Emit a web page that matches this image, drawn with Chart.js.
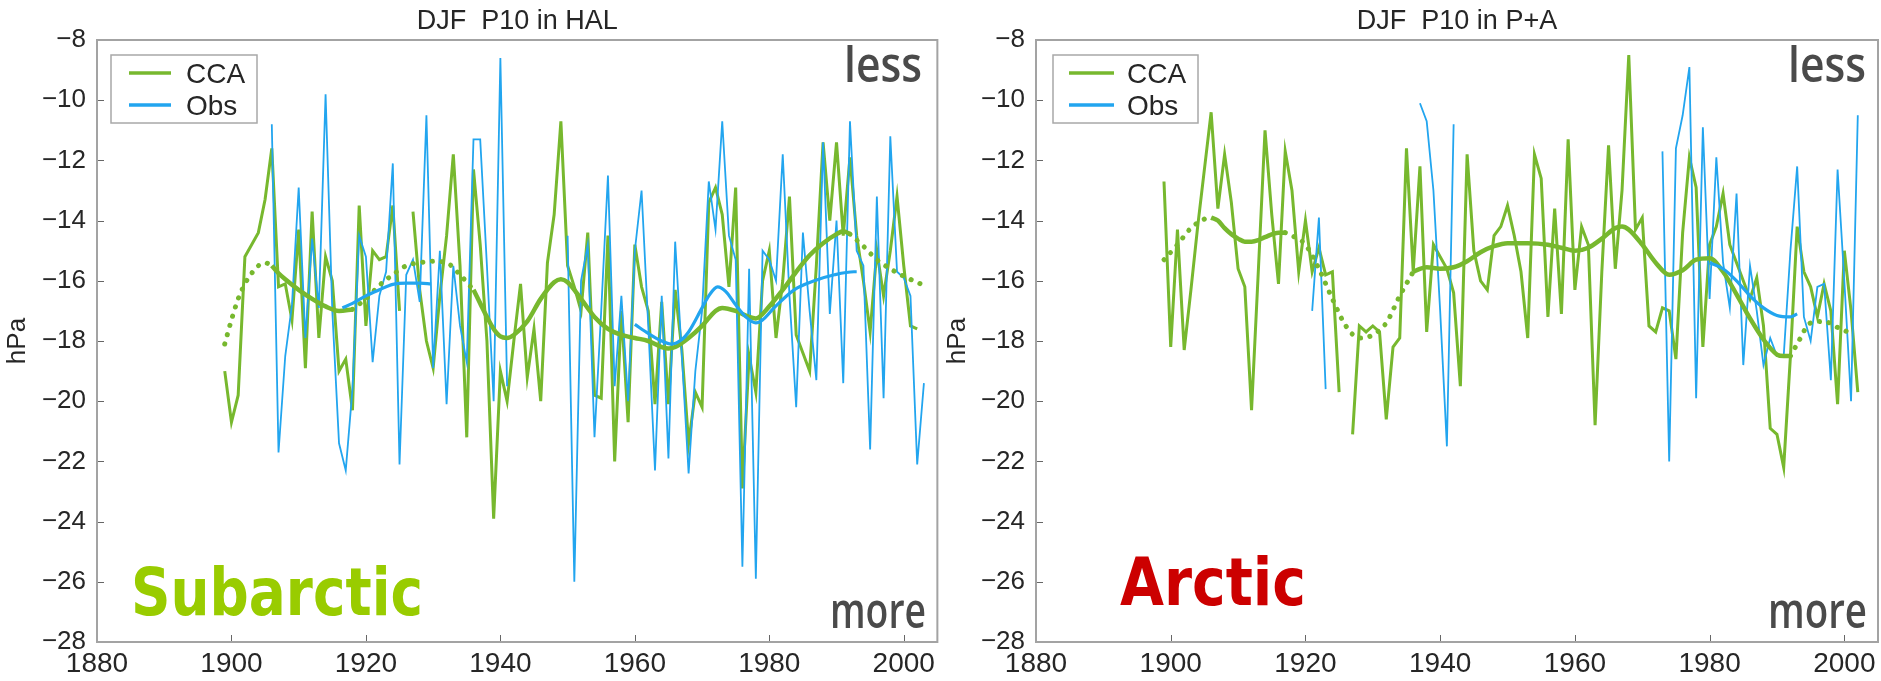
<!DOCTYPE html>
<html><head><meta charset="utf-8">
<script src="https://cdn.jsdelivr.net/npm/chart.js@4.4.1/dist/chart.umd.min.js"></script>
<style>
html,body{margin:0;padding:0;background:#fff;width:1881px;height:681px;overflow:hidden}
#wrapL{position:absolute;left:0;top:0;width:940px;height:681px}
#wrapR{position:absolute;left:940px;top:0;width:941px;height:681px}
</style></head><body>
<div id="wrapL"><canvas id="cL" width="940" height="681"></canvas></div>
<div id="wrapR"><canvas id="cR" width="941" height="681"></canvas></div>
<script>
// ---- categories / ticks ----
const firstYear = 1899, lastYear = 2003;
const years = [];
for (let y = firstYear; y <= lastYear; y++) years.push(y);
const xTicks = [1880, 1900, 1920, 1940, 1960, 1980, 2000];
const yTicks = [-28, -26, -24, -22, -20, -18, -16, -14, -12, -10, -8];

// ---- HAL (left panel), 1899..2003 ----
const ccaHAL = [
-19.0,-20.7,-19.8,-15.2,-14.8,-14.4,-13.3,-11.6,-16.2,-16.1,
-17.3,-14.3,-18.9,-13.7,-17.9,-15.2,-16.0,-19.0,-18.6,-20.3,
-13.5,-17.5,-15.0,-15.3,-15.2,-13.5,-17.0,null,-13.7,-16.3,
-18.0,-18.9,-16.5,-14.5,-11.8,-15.5,-21.2,-12.3,-14.8,-18.0,
-23.9,-19.0,-20.0,-18.0,-16.1,-19.2,-17.6,-20.0,-15.4,-13.8,
-10.7,-15.5,-16.2,-17.0,-14.4,-19.8,-19.9,-14.5,-22.0,-17.0,
-20.7,-14.8,-16.2,-17.0,-20.1,-16.7,-20.1,-16.3,-18.3,-21.4,
-19.7,-20.2,-13.4,-12.9,-13.8,-16.2,-12.9,-22.9,-18.5,-19.7,
-16.0,-15.0,-17.9,-16.0,-13.2,-17.8,-18.4,-19.0,-15.5,-11.4,
-14.0,-11.4,-14.5,-11.9,-14.5,-16.0,-17.7,-15.0,-16.5,-15.0,
-13.2,-15.5,-17.5,-17.6,null];
const obsHAL = [
null,null,null,null,null,null,null,-10.8,-21.7,-18.5,
-16.8,-12.9,-17.9,-14.6,-16.9,-9.8,-17.0,-21.4,-22.3,-19.6,
-14.5,-15.2,-18.7,-16.5,-15.7,-12.1,-22.1,-15.8,-15.3,-16.7,
-10.5,-18.9,-15.0,-20.1,-15.5,-17.5,-18.7,-11.3,-11.3,-15.5,
-20.0,-8.6,-19.5,null,null,null,null,null,null,null,
null,-14.5,-26.0,-16.0,-14.8,-21.2,-17.0,-12.5,-19.5,-16.5,
-20.0,-15.0,-13.0,-17.5,-22.3,-16.5,-21.9,-14.7,-18.5,-22.4,
-19.0,-17.0,-12.7,-14.3,-10.7,-14.5,-15.3,-25.5,-15.6,-25.9,
-15.0,-15.3,-16.0,-11.8,-16.5,-20.2,-14.4,-17.0,-19.3,-11.4,
-17.1,-14.0,-19.4,-10.7,-15.0,-15.5,-21.6,-13.2,-19.9,-11.2,
-15.7,-15.9,-16.5,-22.1,-19.4];
const ccaTrendHAL_solid1 = [[1906,-15.5],[1907,-15.75],[1908,-15.95],[1910,-16.3],[1912,-16.6],[1914,-16.85],[1916,-17.0],[1918,-16.95]];
const ccaTrendHAL_solid2 = [[1936,-16.3],[1937,-16.75],[1938,-17.2],[1939,-17.6],[1940,-17.85],[1941,-17.9],[1942,-17.8],[1944,-17.35],[1946,-16.6],[1948,-16.05],[1949,-15.95],[1950,-16.05],[1952,-16.6],[1954,-17.2],[1956,-17.6],[1958,-17.8],[1960,-17.9],[1962,-18.0],[1964,-18.2],[1965,-18.25],[1966,-18.2],[1968,-17.9],[1970,-17.5],[1972,-17.0],[1973,-16.9],[1975,-17.0],[1977,-17.2],[1978,-17.25],[1980,-16.85],[1982,-16.3],[1984,-15.7],[1986,-15.15],[1988,-14.75],[1990,-14.45],[1991,-14.35],[1992,-14.45]];
const ccaTrendHAL_dot1 = [[1899,-18.1],[1900,-17.3],[1901,-16.6],[1902,-16.1],[1903,-15.75],[1904,-15.5],[1905,-15.4],[1906,-15.5]];
const ccaTrendHAL_dot2 = [[1918,-16.95],[1920,-16.6],[1922,-16.15],[1924,-15.8],[1926,-15.5],[1928,-15.4],[1930,-15.35],[1932,-15.4],[1934,-15.8],[1936,-16.3]];
const ccaTrendHAL_dot3 = [[1992,-14.45],[1994,-14.85],[1996,-15.3],[1998,-15.6],[2000,-15.85],[2002,-16.05],[2003,-16.15]];
const obsTrendHAL_1 = [[1916.5,-16.9],[1918,-16.75],[1920,-16.5],[1922,-16.3],[1924,-16.12],[1926,-16.08],[1928,-16.08],[1929.7,-16.1]];
const obsTrendHAL_2 = [[1960,-17.45],[1962,-17.75],[1964,-18.0],[1965.4,-18.1],[1967,-17.95],[1968,-17.7],[1970,-16.9],[1971,-16.5],[1972.3,-16.2],[1973.5,-16.35],[1975,-16.8],[1976.5,-17.2],[1978,-17.4],[1979,-17.3],[1980.7,-16.9],[1983.7,-16.3],[1986.7,-16.0],[1989.7,-15.8],[1992.6,-15.7],[1993,-15.7]];

// ---- P+A (right panel), 1899..2003 ----
const ccaPA = [
-12.7,-18.2,-14.3,-18.3,-16.3,-14.2,-12.3,-10.4,-13.6,-11.8,
-13.4,-15.6,-16.2,-20.3,-15.7,-11.0,-13.8,-16.1,-11.7,-13.0,
-15.7,-14.0,-15.7,-14.9,-15.8,-15.7,-19.7,null,-21.1,-17.5,
-17.7,-17.5,-17.7,-20.6,-18.2,-17.9,-11.6,-15.7,-12.2,-17.7,
-14.8,-15.2,-15.6,-16.4,-19.5,-11.8,-15.0,-16.0,-16.3,-14.5,
-14.2,-13.5,-14.5,-15.7,-17.9,-11.8,-12.6,-17.2,-13.6,-17.1,
-11.3,-16.3,-14.2,-14.8,-20.8,-15.7,-11.5,-15.6,-13.0,-8.5,
-14.3,-13.9,-17.5,-17.7,-16.9,-17.0,-18.6,-14.4,-11.9,-12.9,
-18.2,-14.8,-14.2,-13.1,-14.8,-15.4,-16.0,-16.6,-15.9,-17.5,
-20.9,-21.1,-22.2,-18.5,-14.2,-15.7,-16.2,-17.2,-16.1,-17.0,
-20.1,-15.0,-17.0,-19.7,null];
const obsPA = [
null,null,null,null,null,null,null,null,null,null,
null,null,null,null,null,null,null,null,null,null,
null,null,-17.0,-13.9,-19.6,null,null,null,null,null,
null,null,null,null,null,null,null,null,-10.1,-10.7,
-13.0,-17.0,-21.5,-10.8,null,null,null,null,null,null,
null,null,null,null,null,null,null,null,null,null,
null,null,null,null,null,null,null,null,null,null,
null,null,null,null,-11.7,-22.0,-11.6,-10.5,-8.9,-19.9,
-10.9,-16.6,-11.9,-15.4,-16.9,-13.1,-18.8,-15.5,-17.0,-18.8,
-17.9,-18.5,-18.5,-15.0,-12.2,-17.2,-18.0,-16.2,-16.1,-19.3,
-12.3,-16.0,-20.0,-10.5];
const ccaTrendPA_solid1 = [[1906,-13.9],[1907,-14.0],[1908,-14.25],[1909,-14.45],[1910,-14.6],[1911,-14.7],[1912,-14.7],[1913,-14.65],[1914,-14.55],[1916,-14.4],[1917,-14.4]];
const ccaTrendPA_solid2 = [[1936,-15.7],[1937,-15.6],[1938,-15.55],[1940,-15.6],[1942,-15.55],[1944,-15.35],[1946,-15.05],[1948,-14.85],[1950,-14.75],[1953,-14.75],[1956,-14.8],[1958,-14.9],[1960,-15.0],[1962,-14.9],[1964,-14.6],[1966,-14.25],[1967,-14.2],[1968,-14.3],[1970,-14.8],[1972,-15.4],[1974,-15.8],[1976,-15.65],[1978,-15.3],[1980,-15.25],[1982,-15.7],[1984,-16.45],[1986,-17.25],[1988,-17.95],[1990,-18.45],[1991,-18.5],[1992,-18.5]];
const ccaTrendPA_dot1 = [[1899,-15.3],[1901,-14.8],[1903,-14.25],[1905,-13.95],[1906,-13.9]];
const ccaTrendPA_dot2 = [[1917,-14.4],[1918,-14.5],[1920,-14.8],[1922,-15.6],[1924,-16.6],[1926,-17.5],[1928,-17.9],[1930,-17.8],[1932,-17.4],[1934,-16.5],[1936,-15.7]];
const ccaTrendPA_dot3 = [[1992,-18.5],[1993,-18.1],[1995,-17.4],[1997,-17.35],[1999,-17.55],[2001,-17.75]];
const obsTrendPA = [[1980,-15.4],[1982,-15.6],[1984,-16.0],[1986,-16.5],[1988,-16.9],[1990,-17.15],[1992,-17.2],[1993,-17.1]];

// ---- styling ----
const FONT = '"Liberation Sans", Arial, Helvetica, sans-serif';
const GREEN = '#77b82e';
const BLUE = '#22a5ef';
const TXT = '#262626';

function series(vals) { return years.map((y, i) => ({ x: y, y: vals[i] })); }
function pairs(arr) { return arr.map(p => ({ x: p[0], y: p[1] })); }
function rawDs(label, vals, color, width, order) {
  return { label, data: series(vals), borderColor: color, backgroundColor: color, borderWidth: width,
    pointRadius: 0, tension: 0, spanGaps: false, order, fill: false, inLegend: true };
}
function trendDs(pts, color, width, dotted, order) {
  return { label: '', data: pairs(pts), borderColor: color, borderWidth: width, pointRadius: 0,
    cubicInterpolationMode: 'monotone', borderDash: dotted ? [0.1, 9.5] : [],
    borderCapStyle: dotted ? 'round' : 'butt', order, fill: false, inLegend: false };
}

const DECOR = {
  cL: { legend: { x: 111, y: 55, w: 146, h: 68, l0: 129, l1: 171, tx: 186, rows: [83, 115], mid: [73, 105] },
        less: { x: 844, b: 82, w: 78 }, more: { x: 830, b: 628, w: 96 },
        region: { text: 'Subarctic', color: '#99cc00', x: 131, b: 615, w: 292 } },
  cR: { legend: { x: 113, y: 55, w: 145, h: 68, l0: 129, l1: 174, tx: 187, rows: [83, 115], mid: [73, 105] },
        less: { x: 848, b: 82, w: 78 }, more: { x: 828, b: 628, w: 99 },
        region: { text: 'Arctic', color: '#cc0000', x: 180, b: 605, w: 186 } }
};

function fitText(ctx, text, x, b, w, font, color) {
  ctx.save();
  ctx.font = font; ctx.fillStyle = color; ctx.textAlign = 'left'; ctx.textBaseline = 'alphabetic';
  const m = ctx.measureText(text).width;
  ctx.translate(x, b); ctx.scale(w / m, 1); ctx.fillText(text, 0, 0);
  ctx.restore();
}

const decor = {
  id: 'decor',
  afterDraw(chart) {
    const d = DECOR[chart.canvas.id];
    const ctx = chart.ctx, a = chart.chartArea;
    const xs = chart.scales.x, ys = chart.scales.y;
    ctx.save();
    // inward ticks
    ctx.strokeStyle = '#666'; ctx.lineWidth = 1;
    ctx.beginPath();
    xs.ticks.forEach(t => { const px = Math.round(xs.getPixelForValue(t.value)) + 0.5; ctx.moveTo(px, a.bottom); ctx.lineTo(px, a.bottom - 7); });
    ys.ticks.forEach(t => { const py = Math.round(ys.getPixelForValue(t.value)) + 0.5; ctx.moveTo(a.left, py); ctx.lineTo(a.left + 7, py); });
    ctx.stroke();
    // frame
    ctx.strokeStyle = '#a3a3a3'; ctx.lineWidth = 2;
    ctx.strokeRect(a.left, a.top, a.right - a.left, a.bottom - a.top);
    // legend
    const L = d.legend;
    ctx.fillStyle = '#fff'; ctx.fillRect(L.x, L.y, L.w, L.h);
    ctx.strokeStyle = '#a8a8a8'; ctx.lineWidth = 1.5; ctx.strokeRect(L.x, L.y, L.w, L.h);
    const items = chart.data.datasets.filter(ds => ds.inLegend);
    items.forEach((ds, i) => {
      ctx.strokeStyle = ds.borderColor; ctx.lineWidth = 3.5; ctx.setLineDash([]); ctx.lineCap = 'butt';
      ctx.beginPath(); ctx.moveTo(L.l0, L.mid[i]); ctx.lineTo(L.l1, L.mid[i]); ctx.stroke();
      ctx.fillStyle = TXT; ctx.font = '28px ' + FONT; ctx.textBaseline = 'alphabetic'; ctx.textAlign = 'left';
      ctx.fillText(ds.label, L.tx, L.rows[i]);
    });
    // annotations
    fitText(ctx, 'less', d.less.x, d.less.b, d.less.w, '600 48px "Open Sans", sans-serif', '#4a4a4a');
    fitText(ctx, 'more', d.more.x, d.more.b, d.more.w, '600 48px "Open Sans", sans-serif', '#4a4a4a');
    fitText(ctx, d.region.text, d.region.x, d.region.b, d.region.w, 'bold 66px "DejaVu Sans", sans-serif', d.region.color);
    ctx.restore();
  }
};

function makeChart(id, title, yWidth, padRight, cca, obs, ccaSolid, ccaDots, obsTrends) {
  const datasets = [
    rawDs('CCA', cca, GREEN, 3, 5),
    rawDs('Obs', obs, BLUE, 1.8, 4)
  ];
  ccaSolid.forEach(s => datasets.push(trendDs(s, GREEN, 4.5, false, 2)));
  ccaDots.forEach(s => datasets.push(trendDs(s, GREEN, 5, true, 2)));
  obsTrends.forEach(s => datasets.push(trendDs(s, BLUE, 3.2, false, 1)));
  return new Chart(document.getElementById(id), {
    type: 'line',
    data: { datasets },
    plugins: [decor],
    options: {
      responsive: false, animation: false, events: [],
      layout: { padding: { left: 0, right: padRight, top: 0, bottom: 0 } },
      plugins: {
        legend: { display: false }, tooltip: { enabled: false },
        title: { display: true, fullSize: false, text: title, color: TXT, font: { family: FONT, size: 27, weight: 'normal' }, padding: { top: 5, bottom: 2.6 } }
      },
      scales: {
        x: {
          type: 'linear', min: 1880, max: 2005,
          afterBuildTicks: s => { s.ticks = xTicks.map(v => ({ value: v })); },
          afterFit: s => { s.height = 39; },
          grid: { display: false, drawTicks: false }, border: { display: false },
          ticks: { font: { family: FONT, size: 28 }, color: TXT, padding: 5, maxRotation: 0, autoSkip: false, callback: v => String(v) }
        },
        y: {
          type: 'linear', min: -28, max: -8,
          afterBuildTicks: s => { s.ticks = yTicks.map(v => ({ value: v })); },
          afterFit: s => { s.width = yWidth; },
          grid: { display: false, drawTicks: false }, border: { display: false },
          ticks: { font: { family: FONT, size: 26 }, color: TXT, padding: 11, autoSkip: false,
                   callback: v => (v < 0 ? '\u2212' + Math.abs(v) : String(v)) },
          title: { display: true, text: 'hPa', color: TXT, font: { family: FONT, size: 26 }, padding: { top: 2, bottom: 0 } }
        }
      }
    }
  });
}

makeChart('cL', 'DJF  P10 in HAL', 97, 2, ccaHAL, obsHAL,
  [ccaTrendHAL_solid1, ccaTrendHAL_solid2], [ccaTrendHAL_dot1, ccaTrendHAL_dot2, ccaTrendHAL_dot3],
  [obsTrendHAL_1, obsTrendHAL_2]);
makeChart('cR', 'DJF  P10 in P+A', 96, 3, ccaPA, obsPA,
  [ccaTrendPA_solid1, ccaTrendPA_solid2], [ccaTrendPA_dot1, ccaTrendPA_dot2, ccaTrendPA_dot3],
  [obsTrendPA]);
</script>
</body></html>
